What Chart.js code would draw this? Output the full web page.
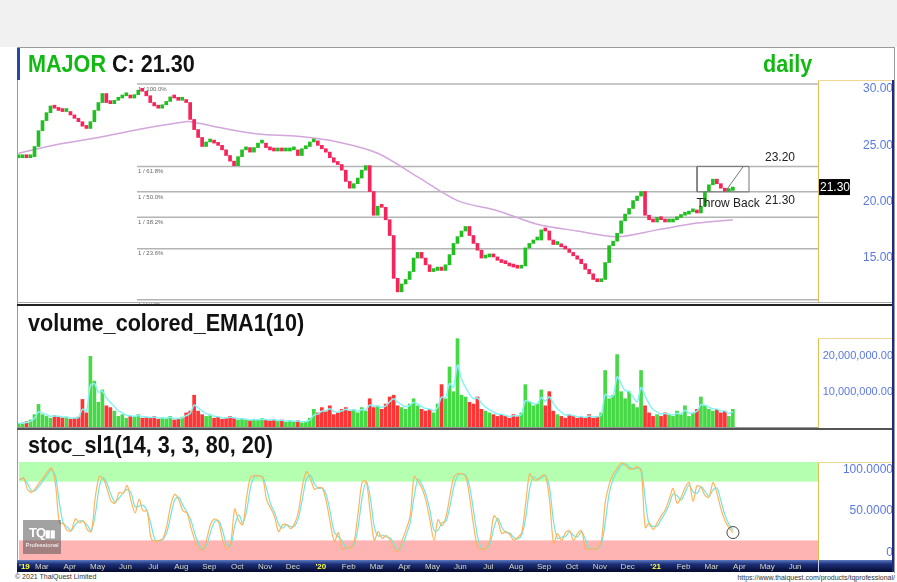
<!DOCTYPE html>
<html>
<head>
<meta charset="utf-8">
<script src="https://cdn.jsdelivr.net/npm/chart.js@4.4.1/dist/chart.umd.min.js"></script>
<style>
  body { margin: 0; width: 897px; height: 582px; background: #fff; position: relative; overflow: hidden;
         font-family: 'Liberation Sans', Arial, sans-serif; }
  .abs { position: absolute; }
  #topband { left: 0; top: 0; width: 897px; height: 47px; background: #f1f1f1; }
  #frame { left: 17px; top: 47px; width: 878px; height: 526px; border: 1px solid #9a9a9a; border-bottom: none; box-sizing: border-box; }
  canvas { position: absolute; left: 17px; }
  .ttl { position: absolute; font: bold 24px 'Liberation Sans', Arial, sans-serif; line-height: 24px;
         transform: scaleX(0.9); transform-origin: left top; white-space: nowrap; color: #111; }
  .foot { position: absolute; font: 7px 'Liberation Sans', Arial, sans-serif; color: #333; white-space: nowrap; }
</style>
</head>
<body>
<div id="topband" class="abs"></div>
<div id="frame" class="abs"></div>

<canvas id="priceChart" width="876" height="256" style="top:48px"></canvas>
<canvas id="volumeChart" width="876" height="123" style="top:305px"></canvas>
<canvas id="stochChart" width="876" height="142" style="top:430px"></canvas>

<!-- panel decorations -->
<div class="abs" style="left:17px;top:48px;width:3px;height:32px;background:#2448a8"></div>
<div class="abs" style="left:17px;top:302px;width:876px;height:1px;background:#aaa"></div>
<div class="abs" style="left:17px;top:304px;width:876px;height:2px;background:#222"></div>
<div class="abs" style="left:17px;top:427px;width:801px;height:1px;background:#999"></div>
<div class="abs" style="left:17px;top:428px;width:876px;height:2px;background:#555"></div>
<div class="abs" style="left:818px;top:80px;width:75px;height:1px;background:#f0d890"></div>
<div class="abs" style="left:818px;top:338px;width:75px;height:1px;background:#f0d890"></div>
<div class="abs" style="left:818px;top:462px;width:75px;height:1px;background:#f0d890"></div>
<div class="abs" style="left:892px;top:80px;width:2px;height:492px;background:#1c2c86"></div>

<div class="ttl" id="mainTitle" style="left:28px;top:52px"><span style="color:#13b913">MAJOR</span> <span id="lastC"></span></div>
<div class="ttl" style="left:763px;top:52px;color:#13b913">daily</div>
<div class="ttl" style="left:28px;top:311px">volume_colored_EMA1(10)</div>
<div class="ttl" style="left:28px;top:433px">stoc_sl1(14, 3, 3, 80, 20)</div>

<div class="abs" style="left:23px;top:520px;width:38px;height:34px;background:rgba(85,85,85,0.55);color:#fff;text-align:center;z-index:5">
  <div style="font:bold 13px 'Liberation Sans',Arial,sans-serif;margin-top:5px;letter-spacing:-1px">TQ<span style="font-size:10px">▮▮</span></div>
  <div style="font:6px 'Liberation Sans',Arial,sans-serif;margin-top:2px">Professional</div>
</div>

<div class="foot" style="left:15px;top:573px">© 2021 ThaiQuest Limited</div>
<div class="foot" style="right:2px;top:574px">https://www.thaiquest.com/products/tqprofessional/</div>

<script>
// ---------- data (one sample = ~3 trading days) ----------
const firstSampleMonth = 1.2;   // month index, 0 = Jan 2019
const samplesPerMonth = 7;

const closes = [
  23.9, 24.0, 23.9, 24.0, 24.9, 26.3, 27.2, 27.9, 28.5, 28.3,
  28.1, 28.0, 28.0, 27.7, 27.4, 27.1, 26.7, 26.5, 27.1, 28.1,
  28.8, 29.6, 28.8, 28.7, 29.0, 29.2, 29.4, 29.4, 29.2, 29.5,
  29.9, 29.8, 29.4, 28.8, 28.5, 28.3, 28.6, 28.9, 29.3, 29.2,
  29.0, 29.0, 28.8, 27.3, 26.4, 25.7, 24.9, 25.3, 25.4, 25.2,
  25.0, 24.6, 24.1, 23.6, 23.2, 24.0, 24.6, 24.8, 24.4, 24.8,
  25.2, 25.2, 24.8, 24.6, 24.5, 24.6, 24.5, 24.5, 24.6, 24.6,
  24.1, 24.7, 24.9, 25.3, 25.4, 25.0, 24.7, 24.4, 23.9, 23.5,
  23.3, 22.8, 21.8, 21.2, 21.6, 22.1, 22.8, 23.2, 20.9, 18.8,
  19.6, 19.5, 18.4, 17.0, 13.2, 12.0, 12.7, 13.1, 13.8, 15.0,
  15.5, 15.0, 14.4, 13.8, 13.9, 14.2, 13.9, 14.4, 15.3, 16.3,
  16.9, 17.4, 17.8, 17.0, 16.3, 15.7, 15.0, 15.1, 15.3, 15.1,
  14.8, 14.6, 14.5, 14.3, 14.2, 14.1, 14.3, 15.9, 16.3, 16.6,
  16.6, 17.5, 17.4, 16.6, 16.2, 16.2, 16.0, 15.8, 15.5, 15.2,
  14.9, 14.5, 14.0, 13.6, 13.1, 12.9, 13.1, 14.6, 16.1, 16.5,
  17.2, 18.3, 18.9, 19.4, 20.1, 20.5, 20.9, 18.8, 18.4, 18.2,
  18.6, 18.4, 18.2, 18.2, 18.4, 18.6, 18.8, 18.9, 19.1, 19.1,
  19.0, 19.6, 20.9, 21.5, 22.0, 21.6, 21.2, 20.9, 21.0, 21.3
];

// volume in millions of shares
const volumes = [
  1.0, 1.2, 1.5, 2.0, 3.5, 6.4, 3.5, 3.0, 2.5, 3.2,
  3.0, 2.6, 2.8, 2.2, 2.5, 2.8, 7.8, 4.0, 20.0, 13.0,
  7.0, 10.5, 6.0, 5.5, 4.5, 3.0, 3.5, 2.5, 3.0, 2.8,
  3.5, 2.5, 2.8, 2.5, 3.0, 2.2, 2.6, 2.4, 3.0, 2.0,
  2.4, 2.8, 4.0, 4.5, 9.0, 4.5, 3.5, 3.0, 3.2, 2.5,
  2.8, 2.2, 2.5, 3.0, 2.5, 2.0, 2.4, 2.0, 1.8, 2.2,
  2.0, 2.4, 2.0, 1.8, 2.2, 1.6, 2.0, 1.4, 1.8, 1.5,
  1.8, 1.2, 1.6, 2.5, 5.0, 4.0, 5.5, 4.5, 6.0, 3.5,
  4.0, 5.0, 5.5, 4.5, 5.0, 4.0, 5.5, 4.5, 8.0, 5.5,
  6.0, 5.0, 6.5, 8.5, 9.0, 6.0, 5.5, 5.0, 6.5, 8.0,
  6.0, 5.0, 4.5, 5.0, 4.0, 6.5, 12.0, 8.0, 17.0, 10.0,
  25.0, 9.0, 8.5, 7.0, 6.5, 8.5, 5.0, 4.5, 4.0, 3.5,
  3.0, 3.5, 3.0, 2.5, 3.5, 3.0, 4.0, 12.0, 7.0, 6.0,
  6.5, 10.5, 6.0, 10.0, 4.5, 3.5, 3.0, 2.5, 3.5, 3.0,
  2.5, 3.0, 2.5, 3.5, 2.5, 3.0, 4.0, 16.0, 8.0, 9.0,
  20.5, 10.0, 8.0, 10.0, 6.5, 5.5, 16.0, 6.0, 4.0, 3.0,
  3.5, 3.0, 4.0, 3.5, 3.0, 4.5, 3.5, 6.0, 3.0, 4.0,
  5.0, 8.5, 6.0, 5.0, 4.5, 5.0, 4.0, 4.5, 3.0, 5.0
];

const stochK = [
  82, 84, 72, 69, 73, 79, 84, 90, 94, 78,
  38, 37, 30, 30, 42, 38, 40, 31, 29, 64,
  85, 83, 72, 60, 58, 69, 68, 76, 60, 48,
  62, 50, 50, 22, 19, 20, 22, 36, 57, 67,
  61, 50, 48, 33, 20, 12, 10, 22, 37, 42,
  38, 20, 11, 18, 52, 40, 36, 65, 85, 86,
  86, 84, 61, 53, 44, 29, 36, 36, 32, 37,
  50, 76, 90, 83, 72, 74, 73, 59, 37, 19,
  28, 11, 13, 12, 20, 50, 80, 80, 48, 20,
  29, 22, 25, 20, 12, 9, 20, 31, 45, 85,
  80, 73, 60, 40, 20, 41, 35, 44, 66, 85,
  88, 88, 85, 62, 33, 12, 11, 12, 20, 45,
  40, 27, 29, 26, 20, 23, 28, 58, 88, 82,
  82, 86, 86, 60, 17, 27, 20, 28, 30, 20,
  27, 30, 12, 11, 11, 12, 20, 60, 78, 88,
  94, 99, 97, 93, 93, 95, 90, 33, 38, 31,
  38, 45, 51, 62, 73, 58, 64, 74, 79, 60,
  76, 74, 66, 64, 79, 68, 52, 40, 33, 28
];

// 200-day average, read at a few samples
const maIndex  = [0, 10, 20, 30, 40, 43, 50, 60, 70, 80, 90, 100, 110, 120, 130, 140, 150, 160, 170, 179];
const maValues = [24.3, 25.1, 25.7, 26.4, 27.0, 27.1, 26.6, 26.0, 25.8, 25.3, 24.3, 22.2, 20.1, 19.2, 18.0, 17.4, 16.9, 17.5, 18.1, 18.4];

// Fibonacci retracement
const fibHigh = 30.45, fibLow = 11.3, fibStartMonth = 5.44;
const fibLevels = [100, 61.8, 50, 38.2, 23.6, 0];

// drawn annotations (months / prices)
const boxMonths = [25.49, 27.35];
const trendMonths = [26.49, 27.13];
const trendPrices = [20.86, 23.08];
const noteTexts  = ['23.20', '21.30', 'Throw Back'];
const noteMonths = [28.46, 28.46, 26.6];
const notePrices = [23.9, 20.05, 19.8];

const overbought = 80, oversold = 20;

const monthTicks  = [1.18, 2, 3, 4, 5, 6, 7, 8, 9, 10, 11, 12, 13, 14, 15, 16, 17, 18, 19, 20, 21, 22, 23, 24, 25, 26, 27, 28, 29];
const monthLabels = ["'19", 'Mar', 'Apr', 'May', 'Jun', 'Jul', 'Aug', 'Sep', 'Oct', 'Nov', 'Dec',
                     "'20", 'Feb', 'Mar', 'Apr', 'May', 'Jun', 'Jul', 'Aug', 'Sep', 'Oct', 'Nov', 'Dec',
                     "'21", 'Feb', 'Mar', 'Apr', 'May', 'Jun'];

// ---------- derived ----------
const X_MIN = 1.18, X_MAX = 29.82;
const AXIS_W = 75;
const monthOf = i => firstSampleMonth + i / samplesPerMonth;
const prevClose = i => (i ? closes[i - 1] : closes[0]);
const isUp = closes.map((c, i) => c >= prevClose(i));
const fibPrice = p => fibLow + (fibHigh - fibLow) * p / 100;
const lastClose = closes[closes.length - 1];
document.getElementById('lastC').textContent = 'C: ' + lastClose.toFixed(2);

const emaAlpha = 2 / (10 / 3 + 1);
const volEma = [];
volumes.forEach((v, i) => volEma.push(i ? volEma[i - 1] + emaAlpha * (v - volEma[i - 1]) : v));
const stochD = stochK.map((k, i) => (i ? (k + stochK[i - 1]) / 2 : k));

// ---------- fonts ----------
const FAMILY = "'Liberation Sans', Arial, sans-serif";
const meas = document.createElement('canvas').getContext('2d');
const textW = (t, s) => { meas.font = s + 'px ' + FAMILY; return meas.measureText(t).width; };
let AXIS_SIZE = 13;
const wv = textW('20,000,000.00', 13);
if (wv > AXIS_W - 3) AXIS_SIZE = Math.floor(13 * (AXIS_W - 3) / wv);
const padFor = labels => AXIS_W - 2 - Math.max(...labels.map(t => textW(t, AXIS_SIZE)));

const GREEN = '#22bf22', RED = '#f5245a';
const VGREEN = '#46d946', VRED = '#ff3434';

function yAxis(extra) {
  return Object.assign({
    position: 'right',
    grid: { display: false, drawTicks: false },
    border: { display: true, color: '#e3be55', dash: [1, 2] },
    afterFit: ax => { ax.width = AXIS_W; ax.paddingTop = 0; ax.paddingBottom = 0; }
  }, extra);
}
const hiddenX = { type: 'linear', min: X_MIN, max: X_MAX, display: false, offset: false };
const baseOpts = {
  responsive: false, animation: false, devicePixelRatio: 1,
  plugins: { legend: { display: false }, tooltip: { enabled: false } }
};

// ---------- price panel ----------
const fibLabelPlugin = {
  id: 'fibLabels',
  afterDatasetsDraw(chart) {
    const { ctx, chartArea: a, scales: { x, y } } = chart;
    ctx.save();
    ctx.beginPath(); ctx.rect(a.left, a.top, a.width, a.height + 2); ctx.clip();
    ctx.font = '6px ' + FAMILY; ctx.fillStyle = '#666'; ctx.textBaseline = 'top'; ctx.textAlign = 'left';
    fibLevels.forEach(p => ctx.fillText('1 / ' + p.toFixed(1) + '%', x.getPixelForValue(fibStartMonth) + 1, y.getPixelForValue(fibPrice(p)) + 2));
    ctx.restore();
  }
};
const notesPlugin = {
  id: 'notes',
  afterDraw(chart) {
    const { ctx, chartArea: a, scales: { x, y } } = chart;
    ctx.save();
    ctx.font = '12px ' + FAMILY; ctx.fillStyle = '#222'; ctx.textAlign = 'center'; ctx.textBaseline = 'middle';
    noteTexts.forEach((t, i) => ctx.fillText(t, x.getPixelForValue(noteMonths[i]), y.getPixelForValue(notePrices[i])));
    // last price tag on the axis
    const py = y.getPixelForValue(lastClose);
    ctx.fillStyle = '#000'; ctx.fillRect(a.right + 1, py - 8, 31, 16);
    ctx.fillStyle = '#fff'; ctx.font = '12px ' + FAMILY; ctx.textAlign = 'left';
    ctx.fillText(lastClose.toFixed(2), a.right + 2, py + 1);
    ctx.restore();
  }
};

const fibSets = fibLevels.map(p => ({
  type: 'line', order: 10,
  data: [{ x: fibStartMonth, y: fibPrice(p) }, { x: X_MAX, y: fibPrice(p) }],
  borderColor: '#b4b4b4', borderWidth: 1.5, pointRadius: 0
}));

new Chart(document.getElementById('priceChart'), {
  type: 'bar',
  data: {
    datasets: [
      {
        type: 'bar', order: 1,
        data: closes.map((c, i) => ({ x: monthOf(i), y: [prevClose(i), c] })),
        backgroundColor: isUp.map(u => (u ? GREEN : RED)),
        barThickness: 3, minBarLength: 3, grouped: false
      },
      {
        type: 'line', order: 5,
        data: maIndex.map((k, i) => ({ x: monthOf(k), y: maValues[i] })),
        borderColor: '#d3a6dc', borderWidth: 1.5, pointRadius: 0, tension: 0.3
      },
      ...fibSets,
      {
        type: 'line', order: 0,
        data: [
          { x: boxMonths[0], y: fibPrice(50) }, { x: boxMonths[1], y: fibPrice(50) },
          { x: boxMonths[1], y: fibPrice(61.8) }, { x: boxMonths[0], y: fibPrice(61.8) },
          { x: boxMonths[0], y: fibPrice(50) }
        ],
        borderColor: '#777', borderWidth: 1, pointRadius: 0
      },
      {
        type: 'line', order: 0,
        data: trendMonths.map((m, i) => ({ x: m, y: trendPrices[i] })),
        borderColor: '#777', borderWidth: 1, pointRadius: 0
      }
    ]
  },
  options: Object.assign({}, baseOpts, {
    layout: { autoPadding: false, padding: { left: 1, top: 32, right: 0, bottom: 2 } },
    scales: {
      x: hiddenX,
      y: yAxis({
        min: 11.1, max: 30.8,
        ticks: {
          stepSize: 5, includeBounds: false, crossAlign: 'far',
          padding: padFor(['30.00']), color: '#5a78e4',
          font: { size: AXIS_SIZE + 1, family: FAMILY },
          callback: v => v.toFixed(2)
        }
      })
    }
  }),
  plugins: [fibLabelPlugin, notesPlugin]
});

// ---------- volume panel ----------
const volLabel = v => (v * 1e6).toLocaleString('en-US', { minimumFractionDigits: 2, maximumFractionDigits: 2 });
new Chart(document.getElementById('volumeChart'), {
  type: 'bar',
  data: {
    datasets: [
      {
        type: 'line', order: 0,
        data: volEma.map((v, i) => ({ x: monthOf(i), y: v })),
        borderColor: '#86f4f4', borderWidth: 1.5, pointRadius: 0, tension: 0.3
      },
      {
        type: 'bar', order: 1,
        data: volumes.map((v, i) => ({ x: monthOf(i), y: v })),
        backgroundColor: isUp.map(u => (u ? VGREEN : VRED)),
        barThickness: 3, grouped: false
      }
    ]
  },
  options: Object.assign({}, baseOpts, {
    layout: { autoPadding: false, padding: { left: 1, top: 33, right: 0, bottom: 1 } },
    scales: {
      x: hiddenX,
      y: yAxis({
        min: 0, max: 25.2,
        ticks: {
          stepSize: 10, includeBounds: false, crossAlign: 'far',
          padding: padFor([volLabel(20)]), color: '#5a78e4',
          font: { size: AXIS_SIZE, family: FAMILY },
          callback: v => (v === 0 ? null : volLabel(v))
        }
      })
    }
  })
});

// ---------- stochastic panel ----------
const zonesPlugin = {
  id: 'zones',
  beforeDatasetsDraw(chart) {
    const { ctx, chartArea: a, scales: { y } } = chart;
    ctx.save();
    ctx.fillStyle = '#b4ffb0';
    ctx.fillRect(a.left, y.getPixelForValue(100), a.width, y.getPixelForValue(overbought) - y.getPixelForValue(100));
    ctx.fillStyle = '#ffb4b4';
    ctx.fillRect(a.left, y.getPixelForValue(oversold), a.width, y.getPixelForValue(0) - y.getPixelForValue(oversold));
    ctx.restore();
  }
};
const axisBandPlugin = {
  id: 'axisBand',
  beforeDraw(chart) {
    const { ctx, scales: { x } } = chart;
    const g = ctx.createLinearGradient(0, x.top, 0, x.bottom);
    g.addColorStop(0, '#5a78c0'); g.addColorStop(0.35, '#1c2f78'); g.addColorStop(1, '#040a2c');
    ctx.save();
    ctx.fillStyle = g; ctx.fillRect(0, x.top, chart.width, x.bottom - x.top);
    ctx.fillStyle = '#c8d0f0'; ctx.fillRect(chart.chartArea.right, x.top, 1, x.bottom - x.top);
    ctx.restore();
  }
};
const lastK = stochK.length - 1;
const isYear = i => typeof monthLabels[i] === 'string' && monthLabels[i].charAt(0) === "'";

new Chart(document.getElementById('stochChart'), {
  type: 'line',
  data: {
    datasets: [
      {
        data: stochK.map((v, i) => ({ x: monthOf(i), y: v })),
        borderColor: '#ffb45a', borderWidth: 1.2, tension: 0.3,
        pointRadius: c => (c.dataIndex === lastK ? 6 : 0),
        pointBorderColor: '#444', pointBackgroundColor: 'rgba(0,0,0,0)', pointBorderWidth: 1
      },
      {
        data: stochD.map((v, i) => ({ x: monthOf(i), y: v })),
        borderColor: '#6fe6e0', borderWidth: 1.2, tension: 0.3, pointRadius: 0
      }
    ]
  },
  options: Object.assign({}, baseOpts, {
    layout: { autoPadding: false, padding: { left: 1, top: 32, right: 0, bottom: 0 } },
    scales: {
      x: {
        type: 'linear', min: X_MIN, max: X_MAX, offset: false,
        grid: { display: false, drawTicks: false }, border: { display: false },
        // month ticks plus an empty closing tick, so 'inner' only pins the first label
        afterBuildTicks: ax => { ax.ticks = monthTicks.concat([X_MAX]).map(v => ({ value: v })); },
        afterFit: ax => { ax.height = 12; },
        ticks: {
          autoSkip: false, maxRotation: 0, padding: 2, align: 'inner',
          color: c => (isYear(c.index) ? '#ffff3c' : '#d6d6c4'),
          font: c => ({ size: 8, family: FAMILY, weight: isYear(c.index) ? 'bold' : 'normal' }),
          callback: (v, i) => monthLabels[i] || ''
        }
      },
      y: yAxis({
        min: 0, max: 100,
        afterBuildTicks: ax => { ax.ticks = [0, 50, 100].map(v => ({ value: v })); },
        ticks: {
          crossAlign: 'far', padding: padFor(['100.0000']), color: '#5a78e4',
          font: { size: AXIS_SIZE + 1, family: FAMILY },
          callback: v => (v === 100 ? ['', '100.0000'] : v === 0 ? ['0', ''] : v.toFixed(4))
        }
      })
    }
  }),
  plugins: [axisBandPlugin, zonesPlugin]
});
</script>
</body>
</html>
